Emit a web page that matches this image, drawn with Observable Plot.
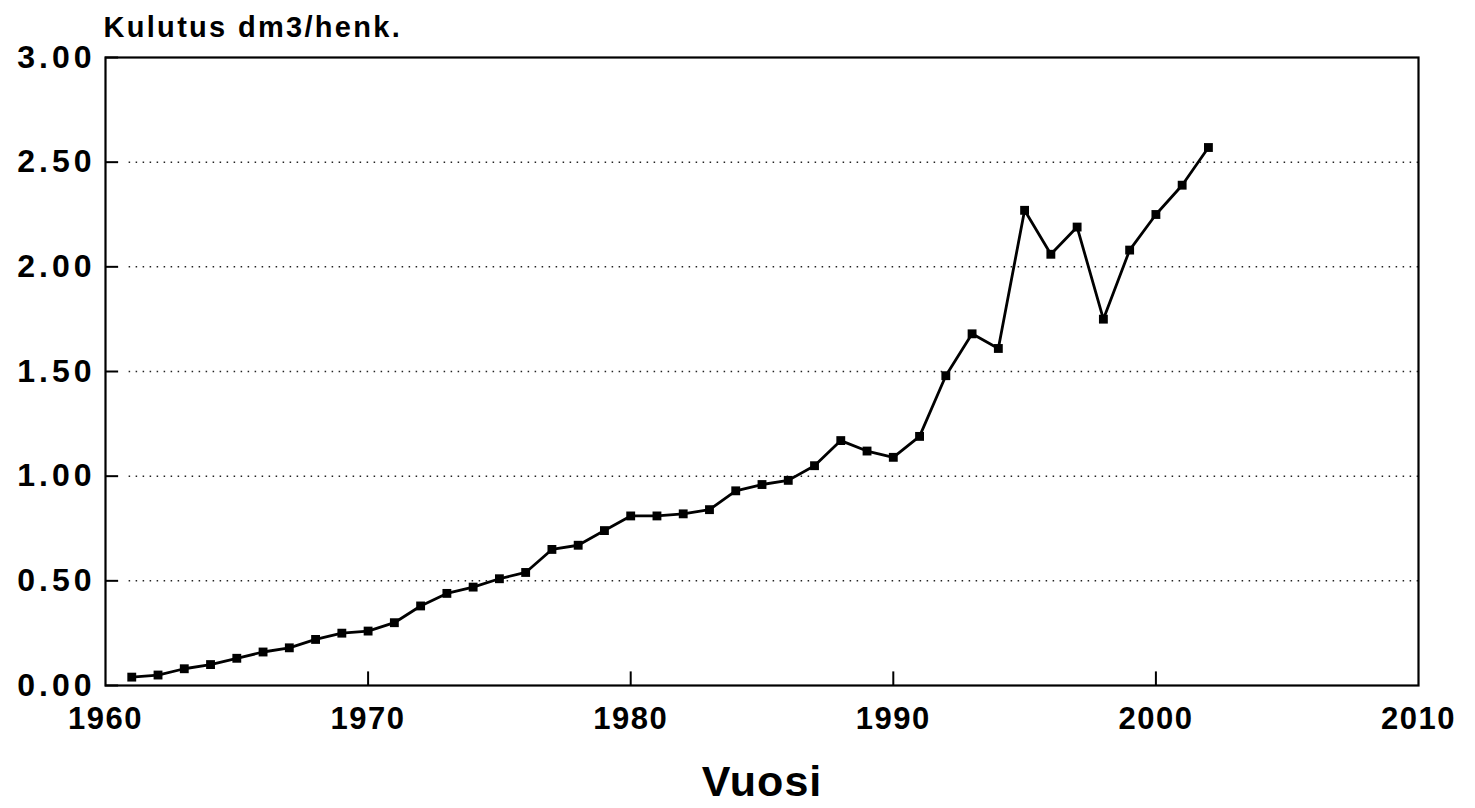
<!DOCTYPE html>
<html>
<head>
<meta charset="utf-8">
<script src="https://cdn.jsdelivr.net/npm/d3@7"></script>
<script src="https://cdn.jsdelivr.net/npm/@observablehq/plot@0.6"></script>
<style>
  html, body { margin: 0; padding: 0; background: #fff; }
</style>
</head>
<body>
<div id="chart"></div>
<script>
const years = [1961,1962,1963,1964,1965,1966,1967,1968,1969,1970,
  1971,1972,1973,1974,1975,1976,1977,1978,1979,1980,
  1981,1982,1983,1984,1985,1986,1987,1988,1989,1990,
  1991,1992,1993,1994,1995,1996,1997,1998,1999,2000,
  2001,2002];
const consumption = [0.04,0.05,0.08,0.10,0.13,0.16,0.18,0.22,0.25,0.26,
  0.30,0.38,0.44,0.47,0.51,0.54,0.65,0.67,0.74,0.81,
  0.81,0.82,0.84,0.93,0.96,0.98,1.05,1.17,1.12,1.09,
  1.19,1.48,1.68,1.61,2.27,2.06,2.19,1.75,2.08,2.25,
  2.39,2.57];
const yTicks = [0, 0.5, 1, 1.5, 2, 2.5, 3];
const gridValues = [0.5, 1, 1.5, 2, 2.5];
const xTicks = [1960, 1970, 1980, 1990, 2000, 2010];
const innerXTicks = [1970, 1980, 1990, 2000];
const yTitle = "Kulutus dm3/henk.";
const xTitle = "Vuosi";

const data = years.map((y, i) => ({year: y, value: consumption[i]}));

const chart = Plot.plot({
  width: 1475,
  height: 808,
  marginLeft: 105,
  marginRight: 57,
  marginTop: 57,
  marginBottom: 123,
  style: {fontFamily: "'Liberation Sans', Arial, sans-serif", fontWeight: "bold", color: "#000", background: "#fff"},
  x: {domain: [1960, 2010]},
  y: {domain: [0, 3]},
  marks: [
    Plot.ruleY(gridValues, {x1: 1960.9, x2: 2010, stroke: "#222", strokeWidth: 1.5, strokeDasharray: "1.5,5.5"}),
    Plot.ruleY(yTicks, {x1: 1960, x2: 1960.5, stroke: "#000", strokeWidth: 2}),
    Plot.ruleX(innerXTicks, {y1: 0, y2: 0.065, stroke: "#000", strokeWidth: 2}),
    Plot.frame({stroke: "#000", strokeWidth: 2.2}),
    Plot.axisY({ticks: yTicks, tickFormat: d => d.toFixed(2), tickSize: 0, tickPadding: 10, fontSize: 32, fontWeight: "bold", label: null}),
    Plot.axisX({ticks: xTicks, tickFormat: d => String(d), tickSize: 0, tickPadding: 21, fontSize: 31, fontWeight: "bold", label: null}),
    Plot.line(data, {x: "year", y: "value", stroke: "#000", strokeWidth: 2.8}),
    Plot.dot(data, {x: "year", y: "value", symbol: "square", r: 5, fill: "#000", stroke: "none"}),
    Plot.text([yTitle], {frameAnchor: "top-left", textAnchor: "start", lineAnchor: "bottom", dx: -2, dy: -21, fontSize: 29, fontWeight: "bold"}),
    Plot.text([xTitle], {frameAnchor: "bottom", lineAnchor: "middle", dy: 97, fontSize: 43, fontWeight: "bold"})
  ]
});
// letter spacing to mimic the wide type of the original
const svg = d3.select(chart);
svg.selectAll("g[aria-label='y-axis tick label'] text").attr("letter-spacing", "4px");
svg.selectAll("g[aria-label='x-axis tick label'] text").attr("letter-spacing", "1.5px");
svg.selectAll("g[aria-label='text'] text").filter(function() { return this.textContent === yTitle; }).attr("letter-spacing", "2.3px");
svg.selectAll("g[aria-label='text'] text").filter(function() { return this.textContent === xTitle; }).attr("letter-spacing", "1px");
document.getElementById("chart").appendChild(chart);
</script>
</body>
</html>
